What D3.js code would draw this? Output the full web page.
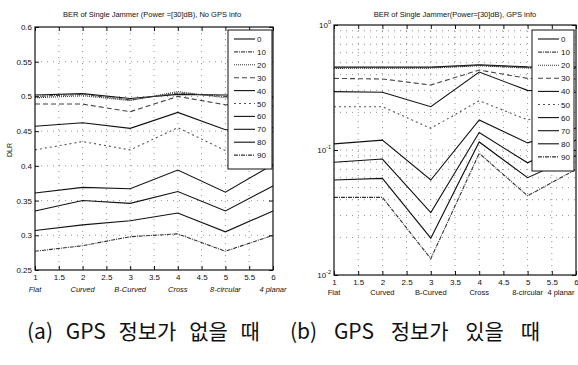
<!DOCTYPE html>
<html><head><meta charset="utf-8">
<script src="https://cdn.jsdelivr.net/npm/d3@7"></script>
<style>
body{margin:0;background:#fff;}
svg{display:block;}
text{font-family:"Liberation Sans",Arial,sans-serif;fill:#111;}
</style></head>
<body><svg id="c" width="578" height="365"></svg>
<script>
const xTicks = [1,1.5,2,2.5,3,3.5,4,4.5,5,5.5,6];
const categories = ["Flat","Curved","B-Curved","Cross","8-circular","4 planar"];
const seriesNames = ["0","10","20","30","40","50","60","70","80","90"];
const xPos = [1,2,3,4,5,6];
const leftYTicks = [0.25,0.3,0.35,0.4,0.45,0.5,0.55,0.6];
const leftTitle = "BER of Single Jammer (Power =[30]dB), No GPS info";
const rightTitle = "BER of Single Jammer(Power=[30]dB), GPS info";
const leftYLabel = "DLR";
const captionA = "(a) GPS 정보가 없을 때";
const captionB = "(b) GPS 정보가 있을 때";

const leftS0 = [0.502,0.504,0.497,0.503,0.502,0.499];
const leftS1 = [0.500,0.503,0.495,0.505,0.500,0.498];
const leftS2 = [0.498,0.501,0.494,0.507,0.498,0.497];
const leftS3 = [0.489,0.489,0.478,0.500,0.488,0.486];
const leftS4 = [0.457,0.462,0.454,0.477,0.452,0.455];
const leftS5 = [0.423,0.435,0.423,0.455,0.422,0.410];
const leftS6 = [0.361,0.369,0.367,0.394,0.362,0.402];
const leftS7 = [0.335,0.350,0.346,0.363,0.335,0.371];
const leftS8 = [0.307,0.315,0.321,0.332,0.305,0.335];
const leftS9 = [0.277,0.285,0.298,0.302,0.277,0.300];

const rightS0 = [0.460,0.460,0.460,0.480,0.462,0.460];
const rightS1 = [0.455,0.455,0.456,0.476,0.457,0.455];
const rightS2 = [0.450,0.451,0.452,0.472,0.452,0.450];
const rightS3 = [0.374,0.370,0.331,0.436,0.374,0.370];
const rightS4 = [0.293,0.290,0.222,0.420,0.300,0.290];
const rightS5 = [0.222,0.222,0.149,0.248,0.174,0.216];
const rightS6 = [0.112,0.120,0.0575,0.174,0.114,0.150];
const rightS7 = [0.0797,0.0847,0.0316,0.138,0.079,0.120];
const rightS8 = [0.0575,0.0593,0.0197,0.116,0.060,0.090];
const rightS9 = [0.0418,0.0418,0.0135,0.094,0.043,0.070];

const leftSeries = [leftS0,leftS1,leftS2,leftS3,leftS4,leftS5,leftS6,leftS7,leftS8,leftS9];
const rightSeries = [rightS0,rightS1,rightS2,rightS3,rightS4,rightS5,rightS6,rightS7,rightS8,rightS9];

const dashes = ["none","4,1,1,1","1,1","5,3","none","2,3","none","none","none","4,1,1,1"];
const strokes = ["#111","#444","#333","#444","#111","#555","#111","#111","#111","#333"];

const svg = d3.select("#c");

function drawPanel(o){
  const g = svg.append("g");
  const x = d3.scaleLinear().domain([1,6]).range([o.x0,o.x1]);
  const y = o.y;
  const [yb, yt] = y.range();
  const grid = g.append("g").attr("stroke","#777").attr("stroke-width",0.8).attr("stroke-dasharray","1,5");
  xTicks.forEach(t=>{ if(t>1&&t<6) grid.append("line").attr("x1",x(t)).attr("x2",x(t)).attr("y1",yt).attr("y2",yb); });
  o.gridY.forEach(t=>{ grid.append("line").attr("x1",o.x0).attr("x2",o.x1).attr("y1",y(t)).attr("y2",y(t)); });
  const line = d3.line().x((d,i)=>x(xPos[i])).y(d=>y(d));
  o.series.forEach((s,i)=>{
    g.append("path").datum(s).attr("d",line).attr("fill","none")
      .attr("stroke",strokes[i]).attr("stroke-width",1.1)
      .attr("stroke-dasharray",dashes[i]);
  });
  g.append("rect").attr("x",o.x0).attr("y",yt).attr("width",o.x1-o.x0).attr("height",yb-yt)
    .attr("fill","none").attr("stroke","#111").attr("stroke-width",1.2);
  const ab = d3.axisBottom(x).tickValues(xTicks).tickSize(-4).tickPadding(4).tickFormat(d3.format("~g"));
  const ax = g.append("g").attr("transform",`translate(0,${yb})`).call(ab);
  const at = d3.axisTop(x).tickValues(xTicks).tickSize(-4).tickFormat("");
  g.append("g").attr("transform",`translate(0,${yt})`).call(at);
  const al = d3.axisLeft(y).tickValues(o.yTicks).tickSize(-4).tickPadding(3).tickFormat(o.yFmt);
  const ay = g.append("g").attr("transform",`translate(${o.x0},0)`).call(al);
  const ar = d3.axisRight(y).tickValues(o.yTicks).tickSize(-4).tickFormat("");
  g.append("g").attr("transform",`translate(${o.x1},0)`).call(ar);
  g.selectAll(".domain").remove();
  g.selectAll(".tick line").attr("stroke","#111");
  g.selectAll(".tick text").attr("fill","#111");
  ax.selectAll("text").attr("font-size",8).attr("font-family","Liberation Sans Narrow, Liberation Sans, sans-serif");
  ay.selectAll("text").attr("font-size",8).attr("font-family","Liberation Sans Narrow, Liberation Sans, sans-serif");
  if(o.yFmt===null){
    ay.selectAll("text").text("").each(function(d){
      const t=d3.select(this);
      t.append("tspan").text("10");
      t.append("tspan").attr("dy",-4).attr("font-size",5.5).text(Math.round(Math.log10(d)));
    });
  }
  g.append("g").selectAll("text").data(categories).join("text")
    .attr("x",(d,i)=>Math.min(x(xPos[i]), o.catMax)).attr("y",o.catY).attr("text-anchor","middle")
    .attr("fill","#111")
    .attr("font-size",7.5).attr("font-style",o.italic?"italic":"normal").text(d=>d);
  g.append("text").attr("x",o.tx).attr("y",17).attr("text-anchor","middle").attr("font-size",7.5).text(o.title);
  const lg = g.append("g");
  lg.append("rect").attr("x",o.lx).attr("y",o.ly).attr("width",o.lw).attr("height",o.lh)
    .attr("fill","#fff").attr("stroke","#111").attr("stroke-width",1);
  const step = (o.lh-10)/seriesNames.length;
  seriesNames.forEach((n,i)=>{
    const yy = o.ly+9+i*step;
    lg.append("line").attr("x1",o.lx+6).attr("x2",o.lx+27).attr("y1",yy).attr("y2",yy)
      .attr("stroke",strokes[i]).attr("stroke-width",1.1).attr("stroke-dasharray",dashes[i]);
    lg.append("text").attr("x",o.lx+29).attr("y",yy+3).attr("font-size",8).text(n);
  });
  return g;
}

drawPanel({
  x0:35,x1:273,
  y:d3.scaleLinear().domain([0.25,0.6]).range([270,27]),
  yTicks:leftYTicks, gridY:[0.3,0.35,0.4,0.45,0.5,0.55],
  yFmt:d3.format("~g"), series:leftSeries, catY:292, italic:true, catMax:300,
  title:leftTitle, tx:152, lx:228, ly:30, lw:44, lh:139
});
const logTicks = [0.01,0.1,1];
const minor = [];
[0.01,0.1].forEach(b=>{ for(let k=1;k<10;k++) minor.push(b*k); });
drawPanel({
  x0:334,x1:576,
  y:d3.scaleLog().domain([0.01,1]).range([275,25]),
  yTicks:logTicks, gridY:minor.filter(v=>v>0.01),
  yFmt:null, series:rightSeries, catY:295, italic:false, catMax:561,
  title:rightTitle, tx:455, lx:532, ly:30, lw:42, lh:141
});

svg.append("text").attr("x",12).attr("y",150).attr("transform","rotate(-90,12,150)")
  .attr("text-anchor","middle").attr("font-size",7).text(leftYLabel);

svg.append("text").attr("x",27).attr("y",339).attr("font-size",21)
  .style("word-spacing","8px")
  .style("font-family","'Noto Sans CJK KR',sans-serif").text(captionA);
svg.append("text").attr("x",290).attr("y",339).attr("font-size",21)
  .style("word-spacing","12px")
  .style("font-family","'Noto Sans CJK KR',sans-serif").text(captionB);
</script></body></html>
